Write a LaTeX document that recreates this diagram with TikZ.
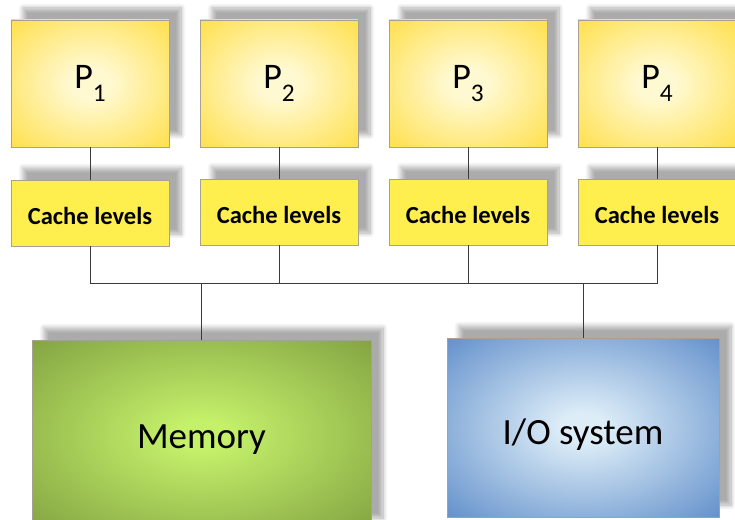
\documentclass[tikz,border=0pt]{standalone}
\usepackage{fontspec}
\setmainfont{Carlito}
\usetikzlibrary{shadows.blur}

\definecolor{procin}{HTML}{FFF9D2}
\definecolor{procout}{HTML}{FFDC38}
\definecolor{cachefill}{HTML}{FFEF4E}
\definecolor{memin}{HTML}{C4F06A}
\definecolor{memout}{HTML}{76943A}
\definecolor{ioin}{HTML}{DDEDF8}
\definecolor{ioout}{HTML}{4A7EC2}
\definecolor{boxline}{HTML}{A8A090}
\definecolor{wirecol}{HTML}{3A3A3A}

% radial fills reaching the box edges
\pgfdeclareradialshading{procshade}{\pgfpoint{0bp}{0bp}}{color(0bp)=(procin); color(6bp)=(procin); color(40bp)=(procout); color(75bp)=(procout)}
\pgfdeclareradialshading{memshade}{\pgfpoint{0bp}{0bp}}{color(0bp)=(memin); color(4bp)=(memin); color(42bp)=(memout); color(75bp)=(memout)}
\pgfdeclareradialshading{ioshade}{\pgfpoint{0bp}{0bp}}{color(0bp)=(ioin); color(4bp)=(ioin); color(42bp)=(ioout); color(75bp)=(ioout)}

\newcommand{\procname}[1]{P\raisebox{-9.75pt}{\fontsize{19}{19}\selectfont #1}}

\tikzset{
  shadowed/.style={blur shadow={shadow xshift=9pt, shadow yshift=9pt, shadow blur radius=3.5pt, shadow blur steps=12, shadow opacity=33}},
  procbox/.style={shadowed, draw=boxline, line width=0.5pt, shading=procshade,
    minimum width=118.5pt, minimum height=95.25pt, inner sep=0pt, font=\fontsize{27}{27}\selectfont},
  cachebox/.style={shadowed, draw=boxline, line width=0.5pt, fill=cachefill, text height=18pt, text depth=0pt,
    minimum width=118.5pt, minimum height=49.5pt, inner sep=0pt, font=\fontsize{18.4}{18.4}\selectfont\bfseries},
  bigbox/.style={shadowed, draw=boxline, line width=0.5pt, inner sep=0pt, text depth=0pt, font=\fontsize{27.75}{27.75}\selectfont},
  wire/.style={draw=wirecol, line width=0.6pt}
}

\begin{document}
\begin{tikzpicture}[x=0.75pt,y=-0.75pt]
\useasboundingbox (0,0) rectangle (735,520);

% Processors
\node [procbox] (p1) at (90,83.5) {\procname{1}};
\node [procbox] (p2) at (279,83.5) {\procname{2}};
\node [procbox] (p3) at (468,83.5) {\procname{3}};
\node [procbox] (p4) at (657,83.5) {\procname{4}};

% Caches
\node [cachebox] (c1) at (90,213) {Cache levels};
\node [cachebox] (c2) at (279,212) {Cache levels};
\node [cachebox] (c3) at (468,212) {Cache levels};
\node [cachebox] (c4) at (657,212) {Cache levels};

% Memory and I/O
\node [bigbox, shading=memshade, text height=19.5pt, minimum width=254.25pt, minimum height=142.5pt] (mem) at (201.5,435) {Memory};
\node [bigbox, shading=ioshade, text height=26pt, minimum width=204pt, minimum height=134.25pt] (io) at (583,427.5) {I/O system};

% Bus
\coordinate (busL) at (90,283);
\coordinate (busR) at (657,283);

\draw [wire] (p1) -- (c1);
\draw [wire] (p2) -- (c2);
\draw [wire] (p3) -- (c3);
\draw [wire] (p4) -- (c4);
\draw [wire] (c1.south) -- (busL) -- (busR) -- (c4.south);
\draw [wire] (c2.south) -- (c2.south |- busL);
\draw [wire] (c3.south) -- (c3.south |- busL);
\draw [wire] (mem.north) -- (mem.north |- busL);
\draw [wire] (io.north) -- (io.north |- busL);
\end{tikzpicture}
\end{document}
